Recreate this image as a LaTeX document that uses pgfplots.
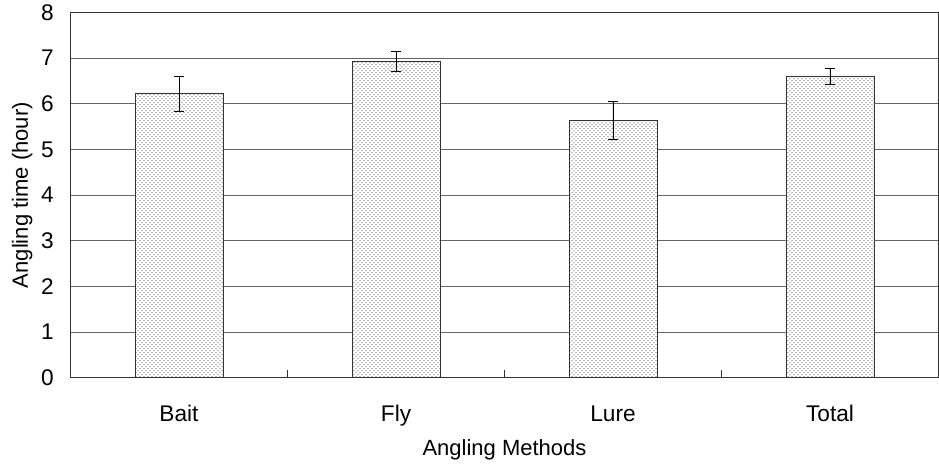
\documentclass[border=0pt]{standalone}
\usepackage{fontspec}
\setmainfont{Liberation Sans}
\usepackage{pgfplots}
\pgfplotsset{compat=1.18}
\usetikzlibrary{patterns}

\begin{document}
\begin{tikzpicture}
\begin{axis}[
    scale only axis,
    width=651pt, height=274pt,
    ymin=0, ymax=8, ytick={0,...,8},
    xmin=-0.5, xmax=3.5,
    xtick={0.5,1.5,2.5},
    xticklabels={},
    xtick pos=bottom,
    xtick align=inside,
    major tick length=6pt,
    xtick style={draw=black!80, line width=0.6pt},
    extra x ticks={0,1,2,3},
    extra x tick labels={Bait,Fly,Lure,Total},
    extra x tick style={major tick length=0pt, tick style={draw=none}},
    ymajorgrids,
    grid style={black!60, line width=0.6pt},
    axis line style={black!80, line width=0.8pt},
    ytick style={draw=none},
    tick label style={font=\fontsize{17}{20}\selectfont},
    label style={font=\fontsize{16.5}{20}\selectfont},
    xlabel={Angling Methods},
    ylabel={Angling time (hour)},
    xlabel style={yshift=-4pt},
    ylabel style={inner ysep=9pt, yshift=-6pt},
    xticklabel style={yshift=-21pt, text height=1.6ex, text depth=0.5ex},
    yticklabel style={xshift=-9pt},
    /pgf/number format/assume math mode=true,
]
\addplot[ybar, bar width=66pt, draw=black!80, line width=0.6pt,
    fill=white, postaction={pattern=crosshatch dots, pattern color=black!60},
    error bars/.cd, y dir=both, y explicit,
    error bar style={black, line width=0.6pt},
    error mark options={rotate=90, mark size=4pt, black, line width=0.6pt}]
coordinates {
    (0,6.22) +- (0,0.39)
    (1,6.92) +- (0,0.22)
    (2,5.63) +- (0,0.42)
    (3,6.60) +- (0,0.18)
};
\end{axis}
\end{tikzpicture}
\end{document}
